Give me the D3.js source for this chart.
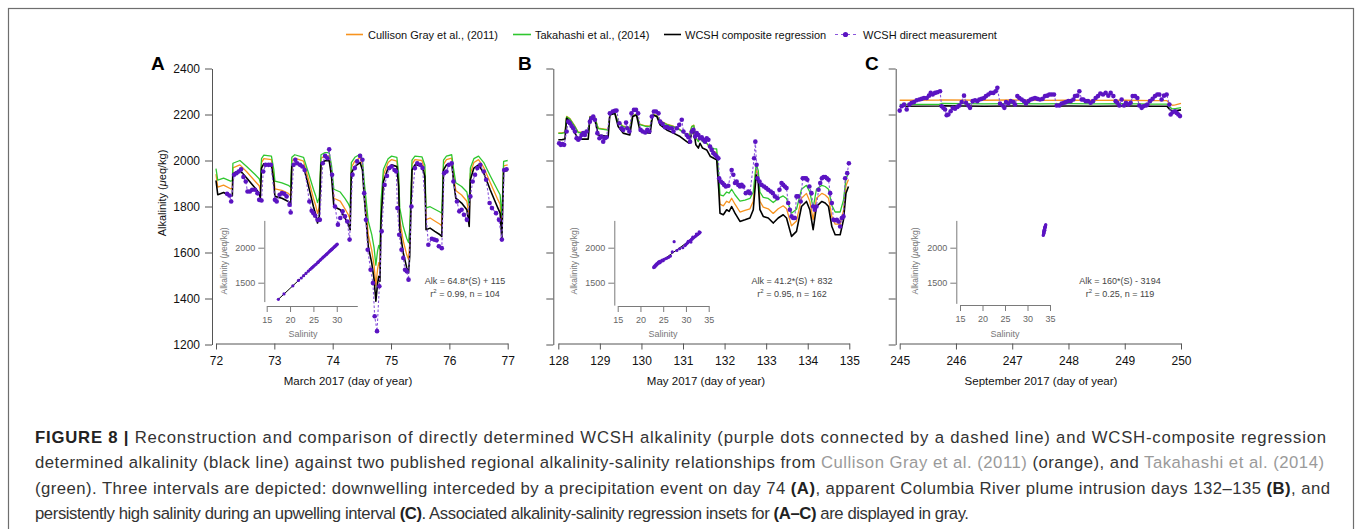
<!DOCTYPE html>
<html>
<head>
<meta charset="utf-8">
<style>
  body { margin: 0; background: #fff; }
  svg { display: block; }
  text { font-family: 'Liberation Sans', Arial, Helvetica, sans-serif; }
</style>
</head>
<body>
<svg width="1357" height="529"></svg>
<script src="https://cdn.jsdelivr.net/npm/d3@7"></script>
<script>
// ---------- data ----------
const yTicks = [1200, 1400, 1600, 1800, 2000, 2200, 2400];
const xTicksA = [72, 73, 74, 75, 76, 77];
const xTicksB = [128, 129, 130, 131, 132, 133, 134, 135];
const xTicksC = [245, 246, 247, 248, 249, 250];
const insetYTicks = [1500, 2000];
const insetXTicksA = [15, 20, 25, 30];
const insetXTicksBC = [15, 20, 25, 30, 35];

// Panel A (March 2017)
const daysA = [72.00,72.03,72.13,72.25,72.28,72.29,72.41,72.53,72.67,72.74,72.76,72.78,72.82,72.95,72.99,73.01,73.13,73.24,73.28,73.30,73.35,73.50,73.58,73.67,73.71,73.74,73.77,73.80,73.87,73.94,73.98,74.02,74.13,74.21,74.27,74.30,74.32,74.38,74.47,74.51,74.54,74.61,74.67,74.71,74.74,74.77,74.79,74.81,74.83,74.87,74.95,75.01,75.10,75.13,75.15,75.21,75.27,75.30,75.32,75.36,75.41,75.53,75.58,75.60,75.67,75.75,75.84,75.87,75.90,75.95,76.04,76.07,76.11,76.21,76.30,76.34,76.36,76.42,76.50,76.59,76.70,76.82,76.87,76.90,76.93,77.00];
const blackA = [1913,1851,1861,1844,1847,1942,1957,1923,1880,1858,1836,1967,1986,1981,1909,1844,1836,1822,1812,1974,1988,1974,1894,1800,1764,1728,1757,1988,1999,1999,1931,1800,1786,1750,1721,1699,1945,1974,1991,1959,1844,1627,1554,1482,1388,1467,1496,1475,1742,1909,1967,1981,1974,1887,1699,1598,1533,1511,1583,1959,1981,1977,1931,1699,1706,1692,1677,1670,1959,1981,1988,1916,1836,1815,1786,1713,1916,1967,1981,1945,1873,1800,1771,1656,1952,1957];
const orangeA = [1941,1884,1893,1877,1880,1968,1981,1950,1910,1890,1870,1991,2008,2004,1937,1877,1870,1857,1847,1997,2010,1997,1923,1836,1803,1770,1797,2010,2020,2020,1957,1836,1823,1790,1763,1743,1970,1997,2013,1983,1877,1677,1609,1543,1456,1529,1556,1536,1783,1937,1991,2004,1997,1917,1743,1650,1590,1570,1636,1983,2004,2000,1957,1743,1750,1737,1723,1716,1983,2004,2010,1943,1870,1850,1823,1756,1943,1991,2004,1970,1904,1836,1810,1704,1977,1981];
const greenA = [1965,1915,1923,1910,1912,1988,2000,1973,1939,1921,1903,2008,2023,2019,1962,1910,1903,1892,1884,2014,2025,2014,1950,1875,1846,1817,1840,2025,2034,2034,1979,1875,1863,1835,1811,1794,1991,2014,2027,2002,1910,1736,1678,1620,1545,1608,1631,1615,1828,1962,2008,2019,2014,1944,1794,1713,1661,1643,1701,2002,2019,2016,1979,1794,1799,1788,1776,1771,2002,2019,2025,1967,1903,1887,1863,1805,1967,2008,2019,1991,1934,1875,1851,1759,1996,2000];
const measA = [[72.19,1855],[72.23,1848],[72.26,1822],[72.31,1938],[72.35,1945],[72.39,1952],[72.43,1962],[72.47,1928],[72.51,1909],[72.54,1865],[72.58,1865],[72.62,1873],[72.67,1873],[72.71,1858],[72.74,1829],[72.78,1826],[72.81,1952],[72.85,1981],[72.90,1981],[72.94,1981],[73.01,1829],[73.04,1822],[73.09,1851],[73.13,1858],[73.17,1855],[73.21,1844],[73.26,1808],[73.28,1774],[73.33,1981],[73.36,2003],[73.39,1988],[73.44,1981],[73.48,1974],[73.52,1959],[73.60,1822],[73.64,1781],[73.67,1771],[73.70,1760],[73.74,1742],[73.78,1742],[73.83,1988],[73.87,2020],[73.91,2010],[73.94,2049],[73.99,1938],[74.04,1800],[74.09,1721],[74.13,1750],[74.17,1779],[74.21,1757],[74.25,1735],[74.29,1656],[74.34,1938],[74.38,1967],[74.42,1996],[74.47,2020],[74.51,2003],[74.54,1858],[74.57,1742],[74.60,1612],[74.65,1525],[74.69,1467],[74.72,1323],[74.76,1258],[74.80,1453],[74.84,1692],[74.89,1894],[74.93,1933],[74.97,1967],[75.01,1974],[75.06,1959],[75.09,1952],[75.11,1793],[75.14,1677],[75.18,1612],[75.21,1576],[75.24,1525],[75.27,1518],[75.30,1482],[75.35,1800],[75.41,1967],[75.45,1988],[75.50,1981],[75.54,1967],[75.64,1634],[75.70,1660],[75.74,1656],[75.78,1653],[75.82,1627],[75.87,1619],[75.91,1945],[75.95,1952],[75.99,1981],[76.04,1988],[76.07,1909],[76.13,1822],[76.17,1779],[76.21,1786],[76.25,1764],[76.30,1742],[76.36,1844],[76.40,1909],[76.44,1938],[76.48,1967],[76.53,1981],[76.59,1952],[76.63,1916],[76.69,1815],[76.73,1793],[76.80,1771],[76.85,1742],[76.90,1656],[76.94,1959],[76.98,1962]];

// Panel B (May 2017)
const daysB = [128.00,128.08,128.16,128.20,128.28,128.40,128.48,128.72,128.76,128.88,128.96,129.20,129.24,129.36,129.44,129.56,129.72,129.79,129.88,129.96,130.09,130.21,130.27,130.37,130.45,130.61,130.77,130.93,131.09,131.15,131.21,131.26,131.31,131.37,131.41,131.47,131.57,131.66,131.74,131.81,131.86,131.89,131.97,132.05,132.11,132.17,132.25,132.37,132.49,132.61,132.69,132.76,132.81,132.85,132.93,133.05,133.17,133.29,133.41,133.49,133.61,133.73,133.85,133.97,134.05,134.13,134.21,134.34,134.42,134.50,134.58,134.66,134.78,134.86,134.92,134.98];
const blackB = [2090,2090,2093,2184,2169,2119,2093,2093,2184,2177,2111,2104,2198,2205,2148,2119,2111,2191,2198,2133,2122,2119,2198,2191,2155,2133,2119,2104,2082,2075,2119,2126,2068,2054,2075,2054,2046,2017,2010,2003,1873,1771,1764,1786,1779,1800,1771,1735,1742,1750,1786,1938,1902,1786,1757,1750,1728,1750,1764,1750,1670,1692,1800,1822,1786,1699,1800,1822,1815,1800,1713,1677,1677,1742,1858,1887];
const orangeB = [2120,2120,2123,2192,2182,2149,2123,2123,2192,2187,2141,2134,2201,2207,2168,2149,2141,2196,2201,2158,2151,2149,2201,2196,2173,2158,2149,2134,2112,2105,2149,2154,2098,2084,2105,2084,2076,2047,2040,2033,1904,1810,1803,1823,1817,1836,1810,1776,1783,1790,1823,1964,1931,1823,1797,1790,1770,1790,1803,1790,1716,1737,1836,1857,1823,1743,1836,1857,1850,1836,1756,1723,1723,1783,1890,1917];
const greenB = [2118,2118,2121,2190,2180,2147,2121,2121,2190,2185,2139,2132,2199,2205,2166,2147,2139,2194,2199,2156,2149,2147,2199,2194,2171,2156,2147,2132,2110,2103,2147,2152,2096,2082,2103,2082,2074,2058,2052,2050,1933,1851,1846,1863,1858,1875,1851,1823,1828,1835,1863,1985,1956,1863,1840,1835,1817,1835,1846,1835,1771,1788,1875,1892,1863,1794,1875,1892,1887,1875,1805,1776,1776,1828,1921,1944];
const measB = [[128.02,2075],[128.06,2068],[128.10,2071],[128.14,2068],[128.20,2126],[128.24,2169],[128.28,2162],[128.32,2150],[128.36,2140],[128.40,2126],[128.44,2097],[128.48,2090],[128.52,2097],[128.56,2111],[128.60,2119],[128.64,2111],[128.68,2126],[128.76,2169],[128.80,2184],[128.84,2191],[128.88,2177],[128.94,2119],[128.99,2097],[129.04,2104],[129.08,2082],[129.12,2097],[129.16,2101],[129.24,2205],[129.31,2213],[129.36,2216],[129.40,2217],[129.47,2162],[129.52,2140],[129.56,2133],[129.63,2165],[129.66,2140],[129.71,2126],[129.76,2205],[129.82,2220],[129.87,2220],[129.92,2205],[129.98,2133],[130.03,2126],[130.09,2122],[130.14,2133],[130.19,2126],[130.25,2191],[130.30,2213],[130.35,2213],[130.41,2205],[130.45,2169],[130.51,2159],[130.57,2145],[130.62,2145],[130.67,2140],[130.73,2140],[130.77,2126],[130.85,2140],[130.91,2155],[130.97,2177],[131.01,2126],[131.09,2111],[131.13,2101],[131.17,2082],[131.21,2126],[131.25,2133],[131.29,2104],[131.33,2119],[131.37,2111],[131.41,2097],[131.45,2101],[131.49,2090],[131.53,2082],[131.57,2097],[131.61,2090],[131.65,2061],[131.69,2046],[131.73,2032],[131.77,2025],[131.81,2017],[131.85,2010],[131.87,1923],[131.91,1909],[131.95,1902],[131.99,1894],[132.03,1887],[132.09,1890],[132.17,1959],[132.21,1938],[132.25,1902],[132.29,1909],[132.33,1894],[132.37,1887],[132.41,1894],[132.45,1887],[132.51,1858],[132.57,1865],[132.61,1858],[132.71,2010],[132.74,2082],[132.77,1981],[132.79,1923],[132.84,1909],[132.89,1894],[132.95,1887],[133.00,1880],[133.05,1873],[133.11,1865],[133.16,1858],[133.21,1844],[133.27,1836],[133.32,1873],[133.37,1902],[133.41,1894],[133.45,1887],[133.49,1880],[133.53,1815],[133.57,1786],[133.61,1757],[133.65,1750],[133.69,1750],[133.73,1844],[133.77,1844],[133.83,1822],[133.88,1923],[133.92,1923],[133.96,1923],[133.99,1916],[134.04,1887],[134.09,1858],[134.13,1800],[134.17,1786],[134.21,1800],[134.26,1873],[134.30,1902],[134.34,1923],[134.38,1928],[134.42,1928],[134.46,1923],[134.50,1916],[134.54,1858],[134.58,1815],[134.62,1742],[134.66,1740],[134.70,1742],[134.74,1735],[134.78,1713],[134.82,1750],[134.86,1757],[134.90,1923],[134.95,1945],[134.99,1988]];

// Panel C (September 2017)
const daysC = [245.00,245.70,245.75,246.50,247.00,247.50,248.00,248.50,249.00,249.50,249.75,249.80,249.85,249.90,250.00];
const blackC = [2236,2237,2238,2236,2237,2236,2237,2236,2237,2236,2236,2222,2214,2216,2220];
const orangeC = [2262,2263,2264,2262,2263,2261,2262,2261,2262,2260,2260,2248,2240,2242,2248];
const greenC = [2244,2244,2248,2246,2247,2246,2247,2246,2247,2245,2245,2232,2224,2226,2230];
const measC = [[245.000,2217],[245.036,2236],[245.077,2243],[245.124,2222],[245.172,2243],[245.213,2251],[245.255,2254],[245.302,2262],[245.350,2265],[245.391,2268],[245.432,2272],[245.480,2272],[245.521,2282],[245.551,2294],[245.586,2287],[245.628,2294],[245.669,2297],[245.717,2301],[245.746,2236],[245.776,2229],[245.806,2222],[245.835,2197],[245.865,2200],[245.906,2214],[245.942,2229],[245.983,2225],[246.025,2233],[246.060,2239],[246.102,2254],[246.143,2282],[246.179,2251],[246.220,2239],[246.250,2229],[246.297,2258],[246.339,2262],[246.380,2258],[246.416,2265],[246.457,2268],[246.499,2272],[246.534,2280],[246.576,2287],[246.617,2294],[246.665,2294],[246.706,2301],[246.736,2316],[246.783,2248],[246.831,2239],[246.860,2229],[246.890,2254],[246.931,2248],[246.973,2258],[247.020,2254],[247.050,2243],[247.091,2280],[247.127,2272],[247.168,2265],[247.210,2258],[247.245,2248],[247.287,2258],[247.328,2265],[247.364,2268],[247.405,2272],[247.446,2268],[247.494,2265],[247.541,2268],[247.583,2280],[247.624,2282],[247.660,2287],[247.701,2287],[247.743,2287],[247.790,2239],[247.838,2239],[247.879,2248],[247.921,2251],[247.956,2254],[247.998,2258],[248.039,2258],[248.086,2265],[248.116,2280],[248.158,2282],[248.193,2301],[248.235,2265],[248.264,2265],[248.306,2258],[248.347,2258],[248.394,2251],[248.436,2258],[248.483,2272],[248.525,2280],[248.566,2291],[248.614,2287],[248.661,2294],[248.709,2282],[248.750,2294],[248.798,2280],[248.839,2258],[248.868,2251],[248.904,2239],[248.945,2265],[248.987,2239],[249.022,2251],[249.064,2243],[249.105,2251],[249.141,2280],[249.182,2280],[249.224,2272],[249.259,2239],[249.301,2229],[249.331,2236],[249.378,2239],[249.402,2243],[249.449,2258],[249.496,2268],[249.538,2280],[249.579,2287],[249.615,2287],[249.656,2265],[249.698,2282],[249.745,2287],[249.793,2243],[249.816,2200],[249.852,2210],[249.893,2214],[249.923,2207],[249.953,2200],[249.982,2193]];

// Inset regressions (salinity, alkalinity)
const insetA = [[17.5,1262],[18.7,1340],[20.6,1455],[21.8,1533],[22.4,1567],[22.9,1600],[23.4,1633],[23.9,1664],[24.3,1690],[24.6,1707],[24.8,1720],[25.0,1733],[25.3,1750],[25.6,1766],[25.9,1786],[26.0,1792],[26.1,1800],[26.4,1818],[26.6,1832],[26.9,1850],[27.1,1864],[27.3,1874],[27.5,1888],[27.7,1899],[27.8,1905],[27.9,1912],[28.1,1924],[28.3,1938],[28.5,1950],[28.6,1957],[28.8,1968],[28.9,1975],[29.0,1981],[29.1,1986],[29.3,1999],[29.4,2006],[29.5,2012],[29.6,2018],[29.7,2024],[29.8,2031],[29.9,2037],[30.0,2043],[30.1,2050]];
const fitA = [[17.5,1263],[30.1,2049]];
const insetB = [[22.9,1716],[23.0,1730],[23.1,1722],[23.2,1745],[23.3,1738],[23.4,1760],[23.5,1750],[23.6,1772],[23.7,1765],[23.9,1790],[24.0,1778],[24.1,1800],[24.3,1785],[24.4,1810],[24.6,1805],[24.8,1822],[25.0,1815],[25.2,1835],[25.5,1842],[25.8,1850],[26.2,1862],[26.6,1880],[27.0,1940],[27.4,2086],[28.0,1960],[28.6,1985],[29.3,2000],[29.8,2030],[30.0,2045],[30.2,2060],[30.4,2072],[30.5,2090],[30.6,2085],[30.8,2095],[31.0,2105],[31.1,2080],[31.2,2118],[31.4,2125],[31.5,2150],[31.6,2140],[31.8,2148],[32.0,2160],[32.2,2170],[32.3,2195],[32.4,2180],[32.6,2190],[32.8,2200],[32.9,2225],[33.0,2210],[33.1,2220]];
const fitB = [[22.8,1722],[33.1,2212]];
const insetC = [[33.5,2175],[33.55,2190],[33.6,2200],[33.6,2215],[33.65,2225],[33.65,2240],[33.7,2210],[33.7,2235],[33.7,2245],[33.75,2255],[33.75,2265],[33.8,2260],[33.8,2270],[33.8,2290],[33.85,2250],[33.85,2280],[33.9,2285],[33.9,2295],[33.95,2300],[34.0,2310],[34.0,2320],[34.05,2330]];
const fitC = [[33.45,2168],[34.1,2335]];

// ---------- styling ----------
const COL = { orange: "#f7931e", green: "#2fc72f", black: "#000", purple: "#5b14c2", dash: "#8a55dc", axis: "#555", inset: "#7a7a7a" };
const fmt = d3.format("d");

const svg = d3.select("svg");

// frame
svg.append("rect").attr("x", 8.5).attr("y", 8.5).attr("width", 1345).attr("height", 540)
  .attr("fill", "none").attr("stroke", "#6e6e6e").attr("stroke-width", 1.2);

const y = d3.scaleLinear().domain([1200, 2400]).range([344.5, 68.5]);

const panels = [
  { letter: "A", lx: 151, yAxisX: 212, xr: [216, 507.7], dom: [72, 77], ticks: xTicksA, labels: true,
    title: "March 2017 (day of year)", tx: 348,
    days: daysA, black: blackA, orange: orangeA, green: greenA, meas: measA,
    inset: { ax: 264.3, xr: [266.7, 357.3], xd: [15, 34.4], yd: [1230, 2390], xAxisY: 306, ticks: insetXTicksA,
             pts: insetA, fit: fitA, stx: 303, ytx: 224 },
    eq: ["Alk = 64.8*(S) + 115", "0.99, n = 104"], ex: 465 },
  { letter: "B", lx: 518, yAxisX: 553.3, xr: [558.3, 849.3], dom: [128, 135], ticks: xTicksB, labels: false,
    title: "May 2017 (day of year)", tx: 706,
    days: daysB, black: blackB, orange: orangeB, green: greenB, meas: measB,
    inset: { ax: 614.3, xr: [617.7, 708.7], xd: [15, 35], yd: [1180, 2390], xAxisY: 306, ticks: insetXTicksBC,
             pts: insetB, fit: fitB, stx: 663, ytx: 574 },
    eq: ["Alk = 41.2*(S) + 832", "0.95, n = 162"], ex: 792 },
  { letter: "C", lx: 865, yAxisX: 895.7, xr: [899.7, 1181], dom: [245, 250], ticks: xTicksC, labels: false,
    title: "September 2017 (day of year)", tx: 1041,
    days: daysC, black: blackC, orange: orangeC, green: greenC, meas: measC,
    inset: { ax: 956.3, xr: [960, 1050], xd: [15, 35], yd: [1205, 2390], xAxisY: 305, ticks: insetXTicksBC,
             pts: insetC, fit: fitC, stx: 1005, ytx: 915 },
    eq: ["Alk = 160*(S) - 3194", "0.25, n = 119"], ex: 1120 }
];

function styleAxis(g, col) {
  g.selectAll("path.domain").attr("stroke", col).attr("stroke-width", 1);
  g.selectAll(".tick line").attr("stroke", col).attr("stroke-width", 1);
}

panels.forEach(p => {
  const x = d3.scaleLinear().domain(p.dom).range(p.xr);
  const g = svg.append("g");

  // y axis
  const ya = d3.axisLeft(y).tickValues(yTicks).tickSize(7).tickSizeOuter(0).tickPadding(5)
    .tickFormat(p.labels ? fmt : () => "");
  const gy = g.append("g").attr("transform", `translate(${p.yAxisX},0)`).call(ya);
  styleAxis(gy, COL.axis);
  gy.selectAll("text").attr("font-size", 12).attr("fill", "#111").attr("font-family", null);

  // x axis
  const xa = d3.axisBottom(x).tickValues(p.ticks).tickSize(6).tickSizeOuter(0).tickPadding(7).tickFormat(fmt);
  const gx = g.append("g").attr("transform", "translate(0,343.5)").call(xa);
  styleAxis(gx, COL.axis);
  gx.selectAll("text").attr("font-size", 12).attr("fill", "#111").attr("font-family", null);

  g.append("text").attr("x", p.tx).attr("y", 385).attr("text-anchor", "middle")
    .attr("font-size", 11.5).attr("fill", "#111").text(p.title);

  g.append("text").attr("x", p.lx).attr("y", 70).attr("font-size", 19).attr("font-weight", "bold")
    .attr("fill", "#000").text(p.letter);

  // inset
  const s = p.inset;
  const ix = d3.scaleLinear().domain(s.xd).range(s.xr);
  const iy = d3.scaleLinear().domain(s.yd).range([247.7 + (2000 - s.yd[0]) * 0.07, 247.7 + (2000 - s.yd[1]) * 0.07]);
  const giy = g.append("g").attr("transform", `translate(${s.ax},0)`)
    .call(d3.axisLeft(iy).tickValues(insetYTicks).tickSize(6).tickSizeOuter(0).tickPadding(3).tickFormat(fmt));
  styleAxis(giy, COL.inset);
  giy.selectAll("text").attr("font-size", 9).attr("fill", "#666").attr("font-family", null);
  const gix = g.append("g").attr("transform", `translate(0,${s.xAxisY})`)
    .call(d3.axisBottom(ix).tickValues(s.ticks).tickSize(6).tickSizeOuter(0).tickPadding(5).tickFormat(fmt));
  styleAxis(gix, COL.inset);
  gix.selectAll("text").attr("font-size", 9).attr("fill", "#666").attr("font-family", null);
  g.append("text").attr("x", s.stx).attr("y", 337).attr("text-anchor", "middle")
    .attr("font-size", 9).attr("fill", "#777").text("Salinity");
  const yt = g.append("text").attr("transform", `translate(${s.ytx + 3},261) rotate(-90)`)
    .attr("text-anchor", "middle").attr("font-size", 8.5).attr("fill", "#777");
  yt.append("tspan").text("Alkalinity (");
  yt.append("tspan").attr("font-style", "italic").text("\u03bc");
  yt.append("tspan").text("eq/kg)");

  const iline = d3.line().x(d => ix(d[0])).y(d => iy(d[1]));
  g.append("path").datum(s.fit).attr("d", iline).attr("fill", "none").attr("stroke", "#000").attr("stroke-width", 1);
  g.selectAll(null).data(s.pts).join("circle")
    .attr("cx", d => ix(d[0])).attr("cy", d => iy(d[1])).attr("r", 1.6).attr("fill", COL.purple);

  // equation
  g.append("text").attr("x", p.ex).attr("y", 284).attr("text-anchor", "middle")
    .attr("font-size", 9).attr("fill", "#444").text(p.eq[0]);
  const e2 = g.append("text").attr("x", p.ex).attr("y", 296.5).attr("text-anchor", "middle")
    .attr("font-size", 9).attr("fill", "#444");
  e2.append("tspan").text("r");
  e2.append("tspan").attr("font-size", 6).attr("dy", -3.5).text("2");
  e2.append("tspan").attr("dy", 3.5).text(" = " + p.eq[1]);

  // series
  const line = d3.line().x(d => x(d[0])).y(d => y(d[1]));
  [["orange", p.orange, 1.3], ["green", p.green, 1.3], ["black", p.black, 1.6]].forEach(([c, vals, w]) => {
    g.append("path").datum(d3.zip(p.days, vals)).attr("d", line)
      .attr("fill", "none").attr("stroke", COL[c]).attr("stroke-width", w).attr("stroke-linejoin", "round");
  });
  g.append("path").datum(p.meas).attr("d", line).attr("fill", "none")
    .attr("stroke", COL.dash).attr("stroke-width", 1.1).attr("stroke-dasharray", "2.5,2");
  g.selectAll(null).data(p.meas).join("circle")
    .attr("cx", d => x(d[0])).attr("cy", d => y(d[1])).attr("r", 2.3).attr("fill", COL.purple);
});

// main y axis title
const yl = svg.append("text").attr("transform", "translate(166,193) rotate(-90)")
  .attr("text-anchor", "middle").attr("font-size", 11).attr("fill", "#111");
yl.append("tspan").text("Alkalinity (");
yl.append("tspan").attr("font-style", "italic").text("\u03bc");
yl.append("tspan").text("eq/kg)");

// legend
const legend = [
  { c: COL.orange, x0: 346, x1: 363, tx: 368, label: "Cullison Gray et al., (2011)" },
  { c: COL.green, x0: 513, x1: 531, tx: 535, label: "Takahashi et al., (2014)" },
  { c: COL.black, x0: 664, x1: 681, tx: 685, label: "WCSH composite regression" },
  { c: COL.purple, x0: 835, x1: 856, tx: 863, label: "WCSH direct measurement", dot: true }
];
const lg = svg.append("g");
legend.forEach(l => {
  const ln = lg.append("line").attr("x1", l.x0).attr("x2", l.x1).attr("y1", 34.5).attr("y2", 34.5)
    .attr("stroke", l.dot ? COL.dash : l.c).attr("stroke-width", l.dot ? 1.1 : 1.6);
  if (l.dot) {
    ln.attr("stroke-dasharray", "3,3");
    lg.append("circle").attr("cx", (l.x0 + l.x1) / 2).attr("cy", 34.5).attr("r", 2.6).attr("fill", COL.purple);
  }
  lg.append("text").attr("x", l.tx).attr("y", 38.5).attr("font-size", 11).attr("fill", "#111").text(l.label);
});

// caption
const capLines = [
  [["FIGURE 8 |", "b"], [" Reconstruction and comparison of directly determined WCSH alkalinity (purple dots connected by a dashed line) and WCSH-composite regression", ""]],
  [["determined alkalinity (black line) against two published regional alkalinity-salinity relationships from ", ""], ["Cullison Gray et al. (2011)", "g"], [" (orange), and ", ""], ["Takahashi et al. (2014)", "g"]],
  [["(green). Three intervals are depicted: downwelling interceded by a precipitation event on day 74 ", ""], ["(A)", "b"], [", apparent Columbia River plume intrusion days 132\u2013135 ", ""], ["(B)", "b"], [", and", ""]],
  [["persistently high salinity during an upwelling interval ", ""], ["(C)", "b"], [". Associated alkalinity-salinity regression insets for ", ""], ["(A\u2013C)", "b"], [" are displayed in gray.", ""]]
];
const capTargets = [1291, 1289, 1295, 934];
const capTexts = capLines.map((segs, i) => {
  const t = svg.append("text").attr("x", 35).attr("y", 443 + i * 25.3).attr("font-size", 15).attr("fill", "#333");
  segs.forEach(([s, st]) => {
    const ts = t.append("tspan").text(s);
    if (st === "b") ts.attr("font-weight", "bold").attr("fill", "#222");
    if (st === "g") ts.attr("fill", "#9a9a9a");
  });
  return t;
});
const ratios = capTexts.map((t, i) => capTargets[i] / t.node().getComputedTextLength());
const fs = 15 * (d3.min(ratios.slice(0, 3)) + ratios[3]) / 2;
capTexts.forEach((t, i) => {
  t.attr("font-size", fs.toFixed(2));
  t.attr("textLength", capTargets[i]).attr("lengthAdjust", "spacing");
});
</script>
</body>
</html>
